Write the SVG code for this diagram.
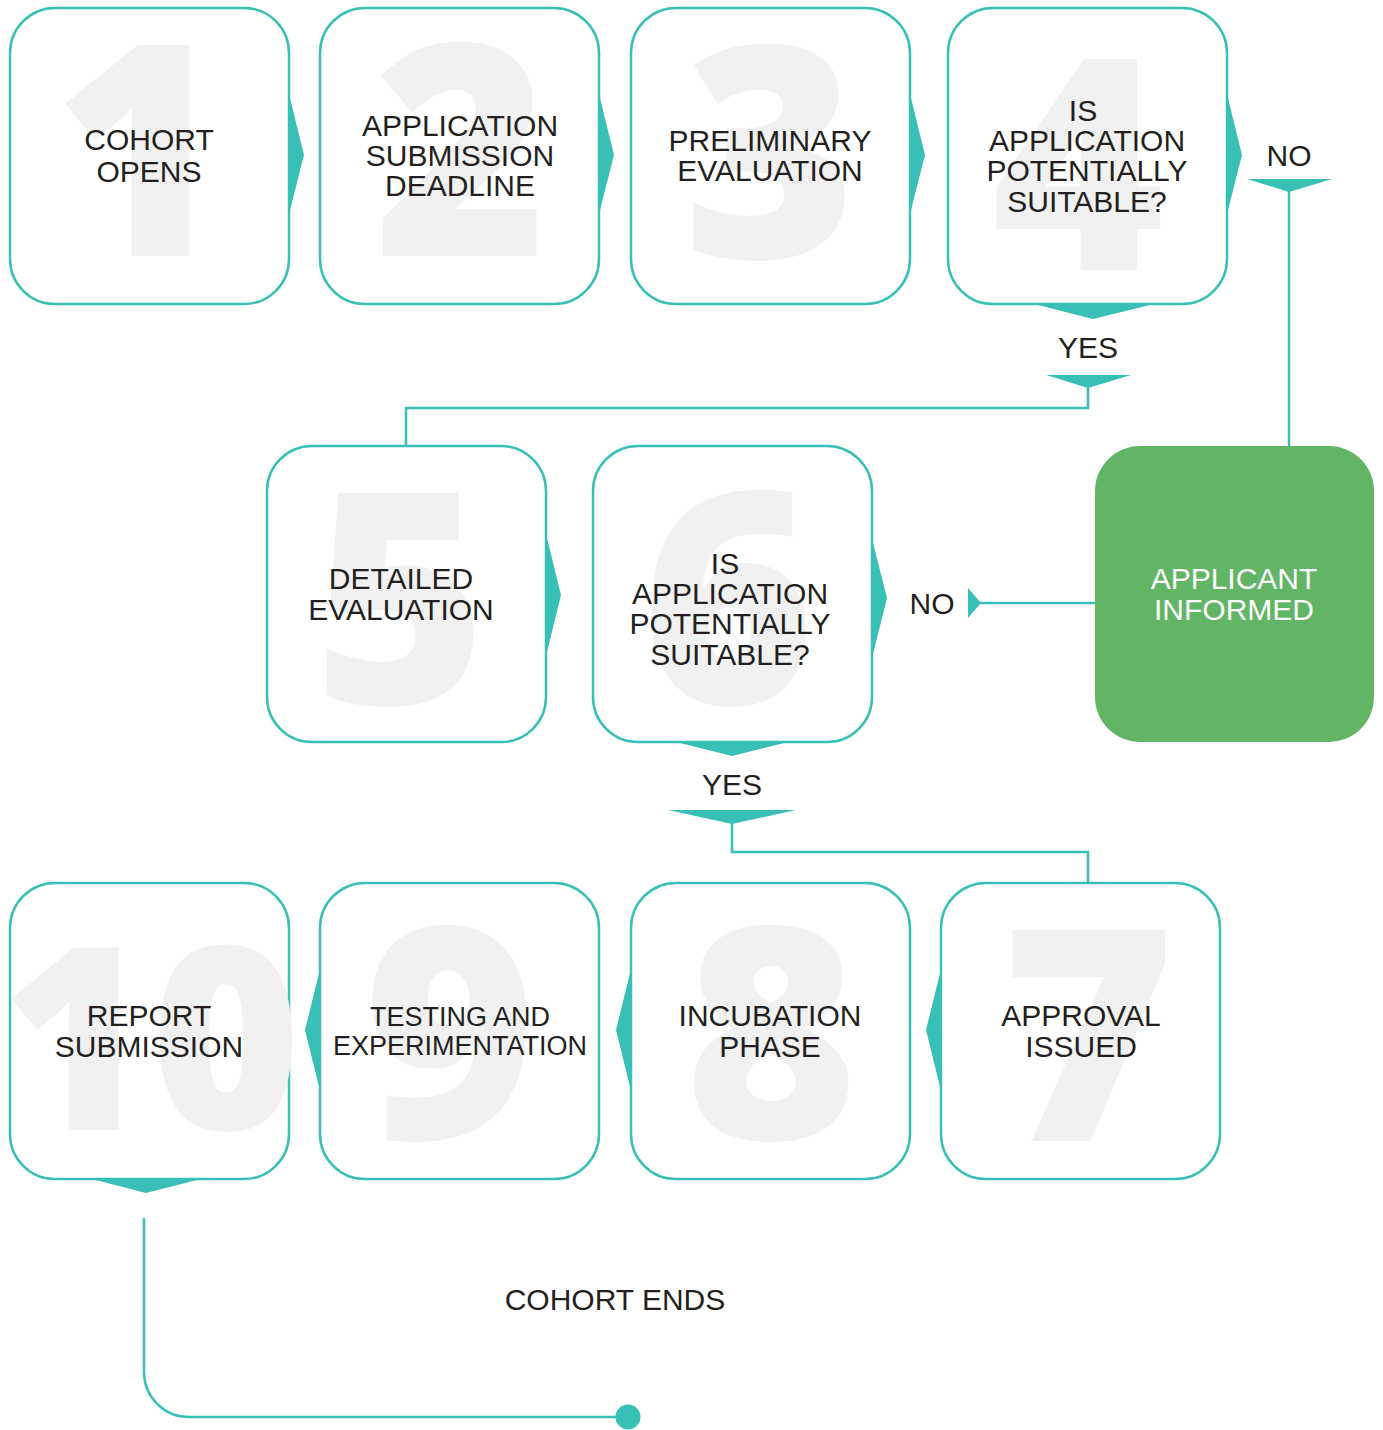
<svg xmlns="http://www.w3.org/2000/svg" width="1383" height="1430" viewBox="0 0 1383 1430">
<style>
.box{fill:#ffffff;stroke:#38bfb6;stroke-width:2.5}
.num{font-family:"Open Sans","Liberation Sans",Arial,sans-serif;font-weight:800;font-size:296px;fill:#f1f1f1;text-anchor:middle}
.lbl{font-family:"Liberation Sans",Arial,sans-serif;font-size:30px;fill:#231f20;text-anchor:middle}
.wedge{fill:#38bfb6}
.line{fill:none;stroke:#38bfb6;stroke-width:2.5}
</style>
<rect width="1383" height="1430" fill="#ffffff"/>
<g id="connectors">
<polygon class="wedge" points="288,90 304,155 288,218"/>
<polygon class="wedge" points="598,90 614,155 598,218"/>
<polygon class="wedge" points="909,90 925,155 909,218"/>
<polygon class="wedge" points="1226,90 1242,155 1226,218"/>
<polygon class="wedge" points="1030,303 1158,303 1093,319"/>
<polygon class="wedge" points="545,530 561,595 545,660"/>
<polygon class="wedge" points="871,535 887,598 871,662"/>
<polygon class="wedge" points="672,741 792,741 732,756"/>
<polygon class="wedge" points="942,965 926,1030 942,1095"/>
<polygon class="wedge" points="632,965 616,1030 632,1095"/>
<polygon class="wedge" points="321,965 305,1030 321,1095"/>
<polygon class="wedge" points="88,1178 205,1178 146,1193"/>
<polygon class="wedge" points="1046,375 1131,375 1088,388"/>
<polyline class="line" points="1088,387 1088,408 406,408 406,446"/>
<polygon class="wedge" points="1247,179 1332,179 1289,192"/>
<line class="line" x1="1289" y1="191" x2="1289" y2="447"/>
<polygon class="wedge" points="968,588 968,618 981,603"/>
<line class="line" x1="980" y1="603" x2="1096" y2="603"/>
<polygon class="wedge" points="668,810 796,810 732,824"/>
<polyline class="line" points="732,823 732,852 1088,852 1088,883"/>
<path class="line" d="M144,1218 V1372 A45,45 0 0 0 189,1417 H628"/>
<circle cx="628" cy="1417" r="12.5" fill="#38bfb6"/>
</g>
<g id="n1"><rect class="box" x="10" y="8" width="279" height="296" rx="45"/><text class="num" x="140" y="256">1</text><text class="lbl" x="149" y="150">COHORT</text><text class="lbl" x="149" y="182">OPENS</text></g>
<g id="n2"><rect class="box" x="320" y="8" width="279" height="296" rx="45"/><text class="num" x="461" y="256">2</text><text class="lbl" x="460" y="136">APPLICATION</text><text class="lbl" x="460" y="166">SUBMISSION</text><text class="lbl" x="460" y="196">DEADLINE</text></g>
<g id="n3"><rect class="box" x="631" y="8" width="279" height="296" rx="45"/><text class="num" x="770" y="258">3</text><text class="lbl" x="770" y="151">PRELIMINARY</text><text class="lbl" x="770" y="181">EVALUATION</text></g>
<g id="n4"><rect class="box" x="948" y="8" width="279" height="296" rx="45"/><text class="num" x="1078" y="270">4</text><text class="lbl" x="1083" y="121">IS</text><text class="lbl" x="1087" y="151">APPLICATION</text><text class="lbl" x="1087" y="181">POTENTIALLY</text><text class="lbl" x="1087" y="212">SUITABLE?</text></g>
<g id="yes1"><text class="lbl" x="1088" y="358">YES</text></g>
<g id="no1"><text class="lbl" x="1289" y="166">NO</text></g>
<g id="n5"><rect class="box" x="267" y="446" width="279" height="296" rx="45"/><text class="num" x="400" y="704">5</text><text class="lbl" x="401" y="589">DETAILED</text><text class="lbl" x="401" y="620">EVALUATION</text></g>
<g id="n6"><rect class="box" x="593" y="446" width="279" height="296" rx="45"/><text class="num" x="728" y="704">6</text><text class="lbl" x="725" y="574">IS</text><text class="lbl" x="730" y="604">APPLICATION</text><text class="lbl" x="730" y="634">POTENTIALLY</text><text class="lbl" x="730" y="665">SUITABLE?</text></g>
<g id="no2"><text class="lbl" x="932" y="614">NO</text></g>
<g id="yes2"><text class="lbl" x="732" y="795">YES</text></g>
<g id="informed"><rect x="1095" y="446" width="279" height="296" rx="45" fill="#61b565"/><text class="lbl" x="1234" y="589" style="fill:#ffffff">APPLICANT</text><text class="lbl" x="1234" y="620" style="fill:#ffffff">INFORMED</text></g>
<g id="n7"><rect class="box" x="941" y="883" width="279" height="296" rx="45"/><text class="num" x="1088" y="1141">7</text><text class="lbl" x="1081" y="1026">APPROVAL</text><text class="lbl" x="1081" y="1057">ISSUED</text></g>
<g id="n8"><rect class="box" x="631" y="883" width="279" height="296" rx="45"/><text class="num" x="771" y="1139">8</text><text class="lbl" x="770" y="1026">INCUBATION</text><text class="lbl" x="770" y="1057">PHASE</text></g>
<g id="n9"><rect class="box" x="320" y="883" width="279" height="296" rx="45"/><text class="num" x="450" y="1139">9</text><text class="lbl" x="460" y="1026" style="font-size:27px">TESTING AND</text><text class="lbl" x="460" y="1055" style="font-size:27px">EXPERIMENTATION</text></g>
<g id="n10"><rect class="box" x="10" y="883" width="279" height="296" rx="45"/><text class="num" x="151" y="1130" style="font-size:256px">10</text><text class="lbl" x="149" y="1026">REPORT</text><text class="lbl" x="149" y="1057">SUBMISSION</text></g>
<g id="end"><text class="lbl" x="615" y="1310">COHORT ENDS</text></g>
</svg>
